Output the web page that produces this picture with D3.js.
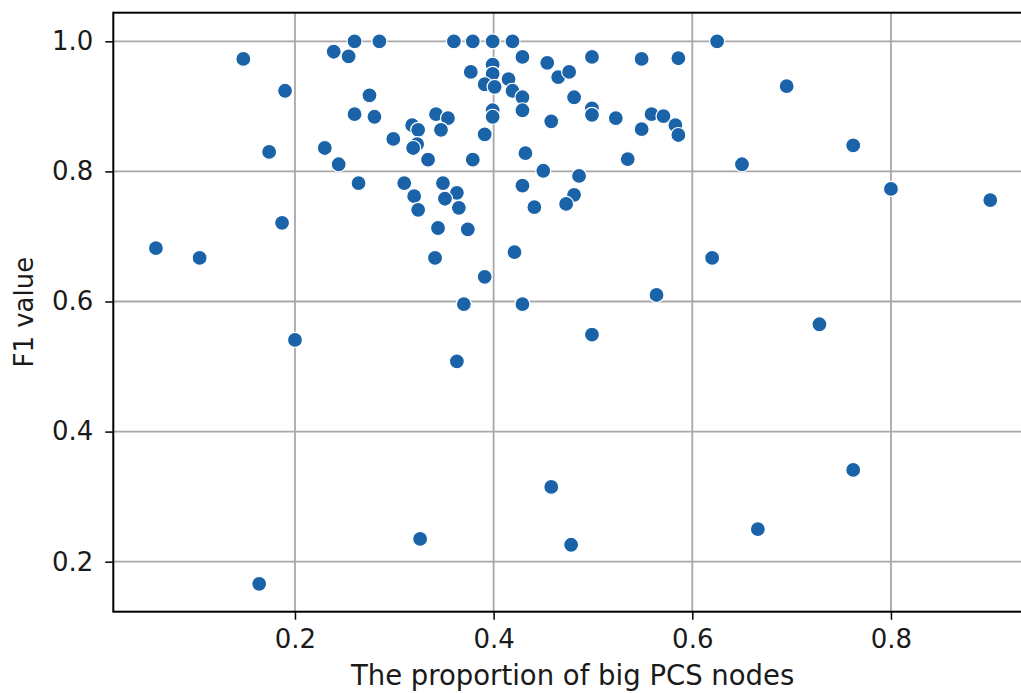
<!DOCTYPE html>
<html>
<head>
<meta charset="utf-8">
<script src="https://cdn.jsdelivr.net/npm/d3@7"></script>
<style>
  body { margin: 0; background: #fff; }
  svg { display: block; font-family: "DejaVu Sans", sans-serif; }
</style>
</head>
<body>
<div id="chart"></div>
<script>
// proportion of big PCS nodes (x) and F1 value (y)
var proportions = [
  0.060, 0.104, 0.148, 0.190, 0.174, 0.187, 0.200, 0.164, 0.239, 0.254,
  0.260, 0.285, 0.275, 0.260, 0.280, 0.230, 0.244, 0.264, 0.299, 0.318,
  0.324, 0.323, 0.319, 0.342, 0.354, 0.347, 0.334, 0.310, 0.320, 0.324,
  0.349, 0.363, 0.351, 0.365, 0.344, 0.374, 0.341, 0.391, 0.421, 0.370,
  0.429, 0.360, 0.379, 0.399, 0.419, 0.429, 0.454, 0.465, 0.399, 0.399,
  0.377, 0.391, 0.401, 0.415, 0.419, 0.429, 0.399, 0.399, 0.429, 0.458,
  0.391, 0.432, 0.379, 0.450, 0.429, 0.441, 0.326, 0.363, 0.458, 0.478,
  0.476, 0.499, 0.549, 0.586, 0.625, 0.695, 0.481, 0.499, 0.499, 0.523,
  0.559, 0.571, 0.549, 0.583, 0.586, 0.535, 0.762, 0.650, 0.486, 0.481,
  0.473, 0.800, 0.900, 0.620, 0.564, 0.499, 0.728, 0.762, 0.666
];
var f1Values = [
  0.682, 0.667, 0.973, 0.924, 0.830, 0.721, 0.541, 0.166, 0.984, 0.977,
  1.000, 1.000, 0.917, 0.888, 0.884, 0.836, 0.811, 0.782, 0.850, 0.871,
  0.864, 0.842, 0.836, 0.888, 0.882, 0.864, 0.818, 0.782, 0.762, 0.741,
  0.782, 0.767, 0.758, 0.744, 0.713, 0.711, 0.667, 0.638, 0.676, 0.596,
  0.596, 1.000, 1.000, 1.000, 1.000, 0.976, 0.967, 0.945, 0.964, 0.950,
  0.953, 0.934, 0.930, 0.942, 0.924, 0.914, 0.894, 0.884, 0.894, 0.877,
  0.857, 0.828, 0.818, 0.801, 0.778, 0.745, 0.235, 0.508, 0.315, 0.226,
  0.953, 0.976, 0.973, 0.974, 1.000, 0.931, 0.914, 0.897, 0.887, 0.882,
  0.888, 0.885, 0.865, 0.871, 0.856, 0.819, 0.840, 0.811, 0.793, 0.764,
  0.750, 0.773, 0.756, 0.667, 0.610, 0.549, 0.565, 0.341, 0.250
];
var xTicks = [0.2, 0.4, 0.6, 0.8];
var yTicks = [0.2, 0.4, 0.6, 0.8, 1.0];

var W = 1021, H = 693;
// plot box; right edge runs past the window like in the reference
var box = {left: 113.3, right: 1032, top: 12.7, bottom: 611.7};

var svg = d3.select("#chart").append("svg")
    .attr("width", W)
    .attr("height", H);

var x = d3.scaleLinear().domain([0.0171, 0.942]).range([box.left, box.right]);
var y = d3.scaleLinear().domain([0.1231, 1.044]).range([box.bottom, box.top]);

svg.append("clipPath").attr("id", "plotclip")
  .append("rect")
    .attr("x", box.left).attr("y", box.top)
    .attr("width", box.right - box.left).attr("height", box.bottom - box.top);

// grid
var grid = svg.append("g").attr("clip-path", "url(#plotclip)");
grid.selectAll(".vgrid").data(xTicks).enter().append("line")
    .attr("x1", d => x(d)).attr("x2", d => x(d))
    .attr("y1", box.top).attr("y2", box.bottom)
    .attr("stroke", "#a8a8a8").attr("stroke-width", 1.8);
grid.selectAll(".hgrid").data(yTicks).enter().append("line")
    .attr("x1", box.left).attr("x2", box.right)
    .attr("y1", d => y(d)).attr("y2", d => y(d))
    .attr("stroke", "#a8a8a8").attr("stroke-width", 1.8);

// points
var pts = d3.range(proportions.length).map(i => [proportions[i], f1Values[i]]);
svg.append("g").attr("clip-path", "url(#plotclip)")
  .selectAll("circle").data(pts).enter().append("circle")
    .attr("cx", d => x(d[0]))
    .attr("cy", d => y(d[1]))
    .attr("r", 7.5)
    .attr("fill", "#1a63a8")
    .attr("stroke", "#fff")
    .attr("stroke-width", 1.2);

// spines
svg.append("rect")
    .attr("x", box.left).attr("y", box.top)
    .attr("width", box.right - box.left).attr("height", box.bottom - box.top)
    .attr("fill", "none")
    .attr("stroke", "#000")
    .attr("stroke-width", 2);

// axes
var xAxis = svg.append("g")
    .attr("transform", "translate(0," + box.bottom + ")")
    .call(d3.axisBottom(x).tickValues(xTicks).tickFormat(d3.format(".1f"))
      .tickSize(8).tickPadding(10).tickSizeOuter(0));
var yAxis = svg.append("g")
    .attr("transform", "translate(" + box.left + ",0)")
    .call(d3.axisLeft(y).tickValues(yTicks).tickFormat(d3.format(".1f"))
      .tickSize(8).tickPadding(12).tickSizeOuter(0));

[xAxis, yAxis].forEach(function(a) {
  a.select(".domain").remove();
  a.selectAll(".tick line").attr("stroke", "#000").attr("stroke-width", 1.5);
  a.selectAll(".tick text")
    .attr("fill", "#1a1a1a")
    .style("font-size", "26px")
    .style("font-family", "DejaVu Sans");
});

// axis labels
svg.append("text")
    .attr("x", (box.left + box.right) / 2)
    .attr("y", 685)
    .attr("text-anchor", "middle")
    .attr("fill", "#1a1a1a")
    .style("font-size", "27.5px")
    .text("The proportion of big PCS nodes");

svg.append("text")
    .attr("transform", "rotate(-90)")
    .attr("x", -(box.top + box.bottom) / 2)
    .attr("y", 33)
    .attr("text-anchor", "middle")
    .attr("fill", "#1a1a1a")
    .style("font-size", "26px")
    .text("F1 value");
</script>
</body>
</html>
